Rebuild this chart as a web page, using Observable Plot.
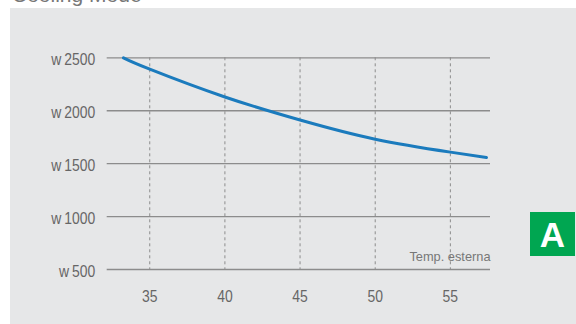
<!DOCTYPE html>
<html>
<head>
<meta charset="utf-8">
<script src="https://cdn.jsdelivr.net/npm/d3@7"></script>
<script src="https://cdn.jsdelivr.net/npm/@observablehq/plot@0.6"></script>
<style>
  html, body { margin: 0; padding: 0; background: #ffffff; }
  #wrap { position: relative; width: 576px; height: 324px; overflow: hidden; }
  #panel { position: absolute; left: 10px; top: 8px; width: 566px; height: 316px; background: #e6e7e8; }
  #title { position: absolute; left: 12px; top: -16px; font: 21px "Liberation Sans", Arial, sans-serif; color: #777; white-space: nowrap; line-height: 21px; }
  #chart { position: absolute; left: 0; top: 0; }
  #badge { position: absolute; left: 530px; top: 212px; width: 45px; height: 44px; background: #00a651; color: #fff;
           font: bold 35px "Liberation Sans", Arial, sans-serif; text-align: center; line-height: 45px; }
</style>
</head>
<body>
<div id="wrap">
  <div id="panel"></div>
  <div id="title">Cooling Mode</div>
  <div id="chart"></div>
  <div id="badge">A</div>
</div>
<script>
// Data
const temps = [33.25, 35, 40, 45, 50, 55, 57.4];
const watts = [2500, 2393, 2130, 1912, 1731, 1609, 1558];
const xTicks = [35, 40, 45, 50, 55];
const yTicks = [500, 1000, 1500, 2000, 2500];
const xLabel = "Temp. esterna";

const data = temps.map((t, i) => ({t, w: watts[i]}));

const chart = Plot.plot({
  width: 576,
  height: 324,
  marginLeft: 106.7,
  marginRight: 86,
  marginTop: 57.3,
  marginBottom: 55,
  style: { background: "transparent", fontFamily: "'Liberation Sans', Arial, sans-serif", fontSize: "17px", color: "#666" },
  x: { domain: [32.17, 57.67] },
  y: { domain: [500, 2500] },
  marks: [
    Plot.gridY(yTicks, { stroke: "#8c8c8c", strokeOpacity: 1, strokeWidth: 1.3 }),
    Plot.gridX(xTicks, { stroke: "#8c8c8c", strokeOpacity: 1, strokeDasharray: "3,3", strokeWidth: 1 }),
    Plot.axisY(yTicks, { tickSize: 0, tickPadding: 12, tickFormat: d => "w\u2009" + d, label: null, fill: "#666", dy: 2 }),
    Plot.axisX(xTicks, { tickSize: 0, tickPadding: 20, label: null, fill: "#666" }),
    Plot.line(data, { x: "t", y: "w", stroke: "#1b7bbd", strokeWidth: 3, curve: "natural" }),
    Plot.text([xLabel], { frameAnchor: "bottom-right", textAnchor: "end", lineAnchor: "middle", dy: -12.5,
      fontFamily: "'Liberation Sans', Arial, sans-serif", fontSize: 12.8, fill: "#777" })
  ]
});
// condense the tick labels horizontally (reference uses a condensed face)
d3.select(chart).selectAll("g[aria-label='y-axis tick label'] text, g[aria-label='x-axis tick label'] text").each(function () {
  const t = this.getAttribute("transform") || "";
  this.setAttribute("transform", t + " scale(0.82,1)");
});
document.getElementById("chart").appendChild(chart);
</script>
</body>
</html>
